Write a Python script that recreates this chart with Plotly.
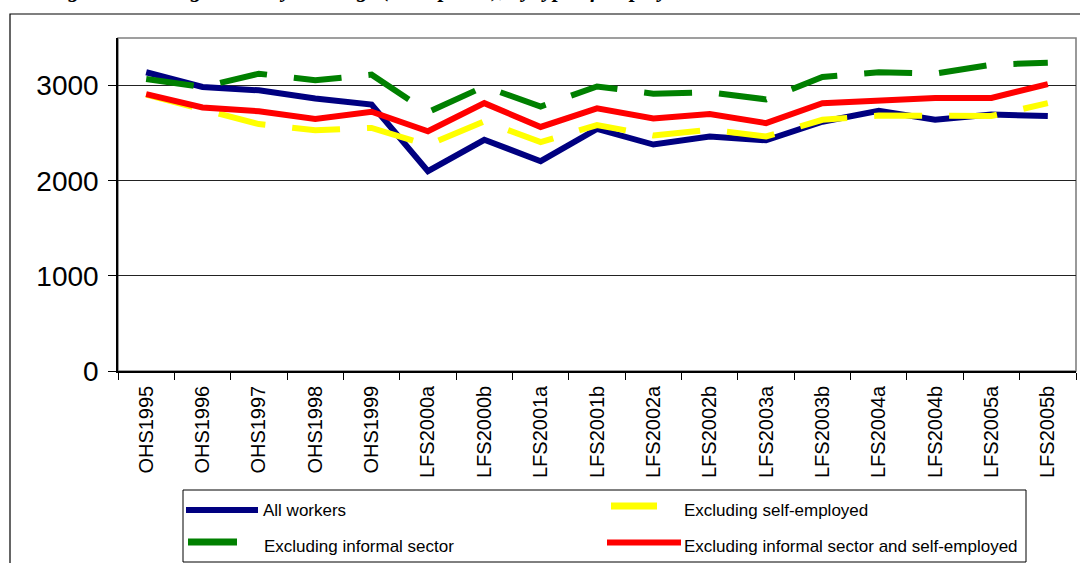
import plotly.graph_objects as go

# Survey rounds (October Household Survey, then Labour Force Survey waves)
periods = ["OHS1995", "OHS1996", "OHS1997", "OHS1998", "OHS1999",
           "LFS2000a", "LFS2000b", "LFS2001a", "LFS2001b", "LFS2002a",
           "LFS2002b", "LFS2003a", "LFS2003b", "LFS2004a", "LFS2004b",
           "LFS2005a", "LFS2005b"]

# Average monthly earnings by type of employment
all_workers = [3140, 2985, 2950, 2865, 2800, 2100, 2430, 2205, 2545, 2380,
               2465, 2425, 2620, 2735, 2640, 2695, 2680]
excl_self_employed = [2905, 2750, 2595, 2530, 2555, 2375, 2625, 2405, 2585, 2475,
                      2535, 2465, 2640, 2685, 2685, 2680, 2815]
excl_informal = [3070, 2985, 3125, 3055, 3115, 2720, 2990, 2780, 2990, 2915,
                 2930, 2855, 3090, 3140, 3125, 3220, 3240]
excl_informal_self = [2910, 2770, 2730, 2650, 2725, 2520, 2815, 2565, 2760, 2655,
                      2700, 2605, 2815, 2840, 2870, 2870, 3015]

y_ticks = [0, 1000, 2000, 3000]

NAVY, YELLOW, GREEN, RED = "#000080", "#FFFF00", "#008000", "#FF0000"
DASH = "48px,27px"
FONT = "Liberation Sans, Arial, sans-serif"

W, H = 1080, 563
PLOT_L, PLOT_R, PLOT_T, PLOT_B = 118, 1076, 38, 371


def fx(px):
    return (px - PLOT_L) / (PLOT_R - PLOT_L)


def fy(py):
    return (PLOT_B - py) / (PLOT_B - PLOT_T)


series = [
    ("All workers", all_workers, NAVY, "solid"),
    ("Excluding self-employed", excl_self_employed, YELLOW, DASH),
    ("Excluding informal sector", excl_informal, GREEN, DASH),
    ("Excluding informal sector and self-employed", excl_informal_self, RED, "solid"),
]

fig = go.Figure()
for name, vals, color, dash in series:
    fig.add_trace(go.Scatter(
        x=periods, y=vals, name=name, mode="lines",
        line=dict(color=color, width=6, dash=dash),
        showlegend=False, hoverinfo="x+y+name",
    ))

shapes = [
    # outer chart frame
    dict(type="rect", xref="paper", yref="paper",
         x0=fx(10), x1=fx(1083), y0=fy(14), y1=fy(566),
         line=dict(color="#000000", width=1.2), layer="below"),
    # plot-area frame (top/right visible in grey)
    dict(type="rect", xref="paper", yref="paper", x0=0, x1=1, y0=0, y1=1,
         line=dict(color="#808080", width=1.6), layer="below"),
    # legend box
    dict(type="rect", xref="paper", yref="paper",
         x0=fx(183), x1=fx(1026), y0=fy(562), y1=fy(490),
         line=dict(color="#000000", width=1), fillcolor="white", layer="above"),
]

# legend keys
legend_keys = [
    (186, 258, 510, NAVY, 6),
    (611, 657, 506, YELLOW, 7),
    (188, 237, 542, GREEN, 7),
    (607, 681, 542.5, RED, 6),
]
for x0, x1, yy, color, w in legend_keys:
    shapes.append(dict(type="line", xref="paper", yref="paper",
                       x0=fx(x0), x1=fx(x1), y0=fy(yy), y1=fy(yy),
                       line=dict(color=color, width=w), layer="above"))

legend_texts = [
    (261, 510, series[0][0]),
    (682, 510, series[1][0]),
    (262, 546, series[2][0]),
    (682, 546, series[3][0]),
]
annotations = []
for xx, yy, txt in legend_texts:
    annotations.append(dict(text=txt, xref="paper", yref="paper",
                            x=fx(xx), y=fy(yy), xanchor="left", yanchor="middle",
                            showarrow=False, font=dict(family=FONT, size=17, color="#000000")))

annotations.append(dict(
    text="<b><i>Figure 3: Average monthly earnings (2000 prices), by type of employment</i></b>",
    xref="paper", yref="paper", x=fx(45), y=fy(4), xanchor="left", yanchor="bottom",
    showarrow=False, font=dict(family="Liberation Serif, Times New Roman, serif", size=22, color="#000000"),
))

fig.update_layout(
    width=W, height=H,
    margin=dict(l=PLOT_L, r=W - PLOT_R, t=PLOT_T, b=H - PLOT_B, autoexpand=False),
    paper_bgcolor="white", plot_bgcolor="white",
    font=dict(family=FONT, color="#000000"),
    shapes=shapes, annotations=annotations,
    showlegend=False,
)

fig.update_xaxes(
    type="category", categoryorder="array", categoryarray=periods,
    range=[-0.5, len(periods) - 0.5],
    showline=True, linecolor="#000000", linewidth=1.5,
    ticks="outside", tickson="boundaries", ticklen=7, tickcolor="#000000", tickwidth=1,
    tickangle=-90, tickfont=dict(family=FONT, size=20, color="#000000"),
    ticklabelstandoff=5, showgrid=False, zeroline=False,
)
fig.update_yaxes(
    range=[0, 3500], tickvals=y_ticks, ticktext=[str(v) for v in y_ticks],
    showline=True, linecolor="#000000", linewidth=1.5,
    ticks="outside", ticklen=8, tickcolor="#000000", tickwidth=1,
    tickfont=dict(family=FONT, size=28, color="#000000"),
    ticklabelstandoff=4,
    showgrid=True, gridcolor="#222222", gridwidth=1, zeroline=False,
)

fig.write_html("out.html")
